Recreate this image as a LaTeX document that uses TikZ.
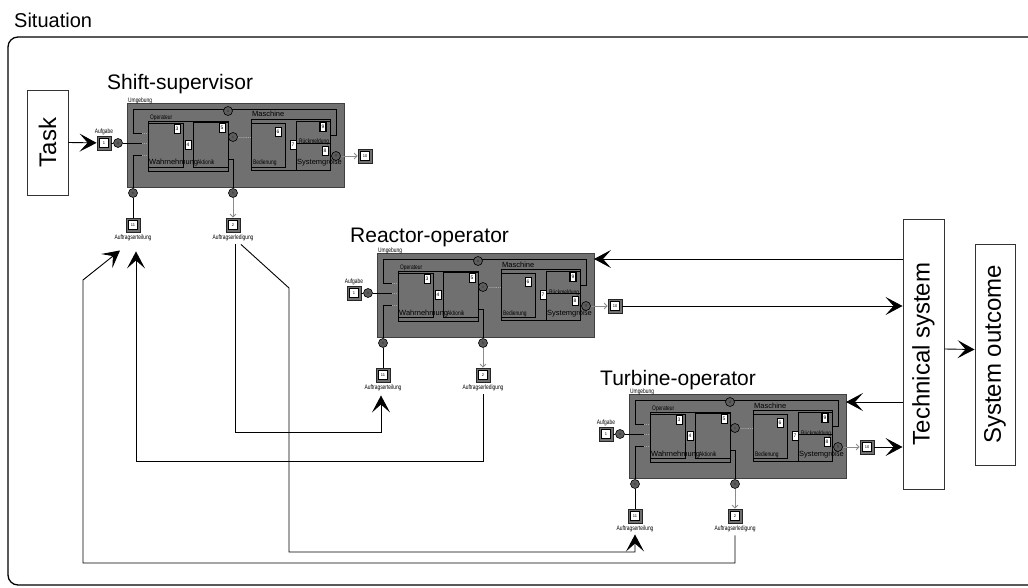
\documentclass[tikz,border=0pt]{standalone}
\usepackage{fontspec}
\setmainfont{Liberation Sans}
\usepackage{graphicx}
\usetikzlibrary{arrows.meta,calc}
\definecolor{blkgray}{RGB}{112,112,112}
\definecolor{sockgray}{RGB}{92,92,92}
\definecolor{arrgray}{RGB}{140,140,140}
\newcommand{\sqz}[1]{\scalebox{0.75}[1]{#1}}
\tikzset{
 blockrect/.style={draw=black!75, fill=blkgray, line width=0.9pt, minimum width=217pt, minimum height=84pt, inner sep=0pt, outer sep=0pt},
 inbox/.style={draw=black, line width=0.7pt},
 wire/.style={draw=black, line width=0.7pt},
 dotw/.style={draw=black!35, line width=0.7pt, dash pattern=on 1pt off 1pt},
 sock/.style={circle, draw=black, fill=sockgray, minimum size=9pt, inner sep=0pt, line width=0.6pt, text=black!80, font=\fontsize{4}{4}\selectfont},
 doc/.style={draw=black, fill=white, minimum width=6pt, minimum height=9pt, inner sep=0pt, line width=0.6pt, font=\fontsize{5}{5}\selectfont},
 darkdoc/.style={doc, line width=1.3pt},
 iobox/.style={draw=black!85, fill=blkgray, minimum size=14pt, inner sep=0pt, line width=0.8pt},
 ioin/.style={draw=black, fill=white, minimum size=9pt, inner sep=0pt, line width=0.5pt, font=\fontsize{4}{4}\selectfont},
 tinylbl/.style={font=\fontsize{6.5}{6.5}\selectfont, inner sep=0pt},
 midlbl/.style={font=\fontsize{7.5}{7.5}\selectfont, inner sep=0pt},
 garrow/.style={draw=arrgray, line width=0.8pt, -{Straight Barb[length=3pt,width=6pt]}},
 bigarrow/.style={draw=black, line width=0.9pt, -{Stealth[length=17pt,width=18pt,inset=8pt]}},
 bigbox/.style={draw=black!80, fill=white, line width=0.9pt, inner sep=0pt, font=\fontsize{24}{24}\selectfont, rotate=90},
 agenttitle/.style={font=\fontsize{21}{21}\selectfont, inner sep=0pt, anchor=base west},
}
\newcommand{\agentblk}[3]{%
\begin{scope}[shift={(#2,#3)}]
 \node[blockrect, anchor=north west] (#1-blk) at (0,0) {};
 \node[tinylbl, anchor=south west] (#1-umgl) at (1,1) {\sqz{Umgebung}};
 % Umgebung loop
 \draw[wire] (203,32) -- (209,32) -- (209,6) -- (6,6) -- (6,30) -- (15,30);
 \draw[dotw] (15,30) -- (21,30);
 \node[sock] (#1-d) at (101,8) {d};
 % Operateur
 \draw[inbox] (21,18) rectangle (101,68);
 \draw[inbox] (21,20) rectangle (56,64);
 \draw[inbox] (66,19) rectangle (101,64);
 \node[tinylbl, anchor=south west] at (23,18) {\sqz{Operateur}};
 \node[midlbl, anchor=base west] at (22,62) {Wahrnehmung};
 \node[tinylbl, anchor=base west] at (70,62) {\sqz{Aktionik}};
 \node[doc] (#1-n3) at (50,26) {3};
 \node[doc] (#1-n4) at (61,42) {4};
 \node[doc] (#1-n5) at (95,25) {5};
 % Aufgabe input
 \node[iobox] (#1-auf) at (-23,40) {};
 \node[ioin] at (#1-auf) {1};
 \node[tinylbl, anchor=south] at (-23,32) {\sqz{Aufgabe}};
 \node[sock] (#1-a) at (-9,40) {a};
 \draw[wire] (#1-auf) -- (#1-a);
 \draw[wire] (#1-a) -- (15,40);
 \draw[dotw] (15,40) -- (21,40);
 % Auftragserteilung
 \node[sock] (#1-e) at (6,90) {e};
 \draw[dotw] (15,52) -- (21,52);
 \draw[wire] (15,52) -- (6,52) -- (#1-e);
 \node[iobox] (#1-teil) at (6,122) {};
 \node[ioin] at (#1-teil) {11};
 \draw[wire] (#1-e) -- (#1-teil);
 \node[tinylbl, anchor=north] (#1-teill) at (6,132) {\sqz{Auftragserteilung}};
 % Aktionik -> Maschine
 \node[sock] (#1-c) at (106,34) {c};
 \draw[wire] (101,34) -- (#1-c);
 \draw[draw=arrgray, line width=0.7pt] (#1-c) -- (119,34);
 \draw[dotw] (119,34) -- (124,34);
 % Maschine
 \draw[inbox] (124,16) rectangle (203,67);
 \draw[inbox] (124,20) rectangle (158,64);
 \draw[inbox] (169,18) rectangle (203,67);
 \node[midlbl, anchor=base west] at (125,14) {Maschine};
 \node[tinylbl, anchor=base west] at (126,62) {\sqz{Bedienung}};
 \node[doc] (#1-n6) at (151,29) {6};
 \node[doc] (#1-n7) at (166,42) {7};
 \node[darkdoc] (#1-n9) at (196,24) {9};
 \node[doc] (#1-n8) at (198,48) {8};
 \draw[wire] (169,40) -- (203,40);
 \node[tinylbl, anchor=base west] at (172,41) {\sqz{Rückmeldung}};
 \node[midlbl, anchor=base west] at (170,62) {Systemgröße};
 % output
 \node[sock] (#1-g) at (209,53) {g};
 \draw[wire] (203,53) -- (#1-g);
 \node[iobox] (#1-out) at (238,53) {};
 \node[ioin] at (#1-out) {10};
 \draw[garrow] (#1-g) -- (#1-out);
 % Auftragserledigung
 \node[sock] (#1-h) at (106,90) {h};
 \draw[wire] (101,56) -- (106,56) -- (#1-h);
 \node[iobox] (#1-erl) at (106,122) {};
 \node[ioin] at (#1-erl) {2};
 \draw[garrow] (#1-h) -- (#1-erl);
 \node[tinylbl, anchor=north] (#1-erll) at (106,132) {\sqz{Auftragserledigung}};
\end{scope}}

\begin{document}
\begin{tikzpicture}[x=1pt,y=-1pt]
\useasboundingbox (0,0) rectangle (1028,588);
\node[font=\fontsize{20}{20}\selectfont, inner sep=0pt, anchor=base west] (sit) at (14,28) {Situation};
\draw[line width=1.3pt, draw=black] (1030,585) [rounded corners=10pt] -- (8,585) -- (8,37) -- (1030,37);

\agentblk{ss}{127}{103}
\agentblk{ro}{377}{253}
\agentblk{to}{629}{394}

\node[agenttitle] at ($(ss-blk.north west)+(-20,-13)$) {Shift-supervisor};
\node[agenttitle] at ($(ro-blk.north west)+(-27,-10)$) {Reactor-operator};
\node[agenttitle] at ($(to-blk.north west)+(-29,-9)$) {Turbine-operator};

\node[bigbox, minimum width=105pt, minimum height=41pt] (task) at (47.5,142.5) {Task};
\node[bigbox, minimum width=270pt, minimum height=41pt] (tech) at (923.5,354) {Technical system};
\node[bigbox, minimum width=221pt, minimum height=40pt] (outc) at (995,354.5) {System outcome};

\draw[bigarrow] (task.south) -- (ss-auf);
\draw[bigarrow] ([yshift=5pt]tech.south) -- ([yshift=5pt]outc.north);

\draw[bigarrow] ($(tech.north |- ro-blk.north east)+(0,6)$) -- ($(ro-blk.north east)+(0,6)$);
\draw[bigarrow] (ro-out) -- (tech.north |- ro-out);
\draw[bigarrow] ($(tech.north |- to-blk.north east)+(0,8)$) -- ($(to-blk.north east)+(0,8)$);
\draw[bigarrow] (to-out) -- (tech.north |- to-out);

% feedback connectors
\coordinate (b1) at (289,288);
\coordinate (b2) at (289,552);
\coordinate (d1) at (83,563);
\coordinate (d2) at (83,280);
\draw[bigarrow] ($(ss-erll.south)+(2,3)$) -- ++(0,188) -| ($(ro-teill.south)+(-2,4)$);
\draw[bigarrow] ($(ss-erll.south)+(8,3)$) -- (b1) -- (b2) -| ($(to-teill.south)+(0,2)$);
\draw[bigarrow] ($(ro-erll.south)+(0,3)$) -- ++(0,67) -| ($(ss-teill.south)+(3,10)$);
\draw[bigarrow] ($(to-erll.south)+(0,3)$) |- (d1) -- (d2) -- ($(ss-teill.south)+(-13,9)$);
\end{tikzpicture}
\end{document}
